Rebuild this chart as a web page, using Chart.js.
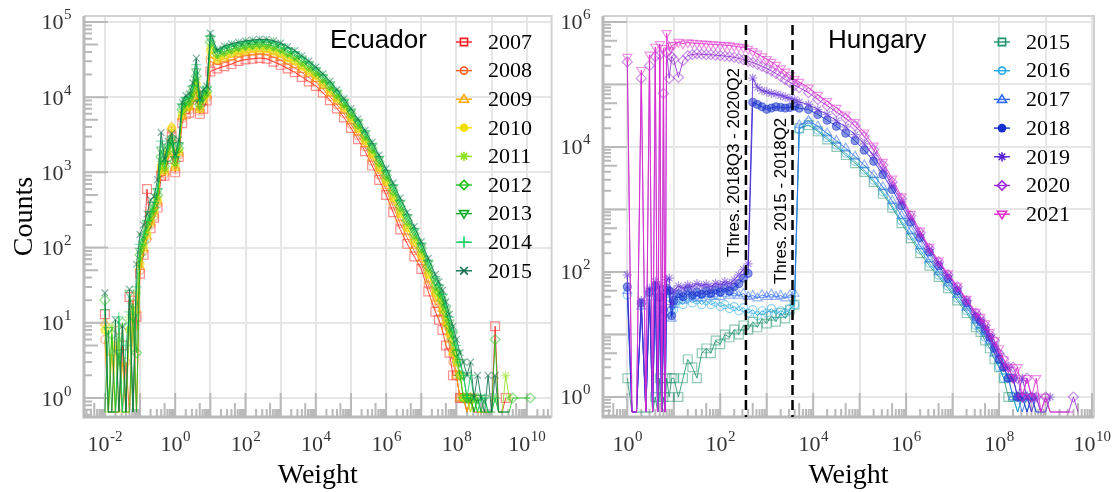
<!DOCTYPE html>
<html>
<head>
<meta charset="utf-8">
<script src="https://cdn.jsdelivr.net/npm/chart.js@4.4.1/dist/chart.umd.min.js"></script>
<style>
  html, body { margin: 0; padding: 0; background: #fff; }
  #wrap { position: relative; width: 1118px; height: 492px; overflow: hidden; }
  canvas { position: absolute; top: 0; }
  #ecuador { left: 0; }
  #hungary { left: 559px; }
</style>
</head>
<body>
<div id="wrap">
  <canvas id="ecuador" width="559" height="492" style="width:559px;height:492px"></canvas>
  <canvas id="hungary" width="559" height="492" style="width:559px;height:492px"></canvas>
</div>
<script>
// ---------------- Ecuador: counts per log-spaced weight bin ----------------
const ecuadorWeights = [
  0.01, 0.0126, 0.0158, 0.02, 0.0251, 0.0316, 0.0398, 0.0501, 0.0631, 0.0794,
  0.1, 0.126, 0.158, 0.2, 0.251, 0.316, 0.398, 0.501, 0.631, 0.794,
  1, 1.26, 1.58, 2, 2.51, 3.16, 3.98, 5.01, 6.31, 7.94,
  10, 15.8, 25.1, 39.8, 63.1, 100, 158, 251, 398, 631,
  1e3, 1.58e3, 2.51e3, 3.98e3, 6.31e3, 1e4, 1.58e4, 2.51e4, 3.98e4, 6.31e4,
  1e5, 1.58e5, 2.51e5, 3.98e5, 6.31e5, 1e6, 1.58e6, 2.51e6, 3.98e6, 6.31e6,
  1e7, 1.58e7, 2.51e7,
  3.16e7, 3.98e7, 5.01e7, 6.31e7, 7.94e7, 1e8, 1.26e8, 1.58e8, 2e8, 2.51e8,
  3.16e8, 3.98e8, 5.01e8, 6.31e8, 7.94e8, 1e9, 1.26e9, 1.58e9, 2e9, 2.51e9,
  3.16e9, 3.98e9, 5.01e9, 6.31e9, 7.94e9, 1e10, 1.26e10
];
const ec2007 = [13,0,0,0,0,5,0,22,0,12,45,80,600,180,250,340,900,900,1500,3000,1000,1600,4500,6000,6200,8000,10000,6000,7000,9000,
  22000,24000,25700,27500,30200,31600,32400,33100,32400,29500,26900,24000,21400,18600,16200,14100,11500,9120,7080,5370,3890,2750,1910,1230,794,501,295,174,112,76,52,26,14,
  11,8,5,4,2,2,1,1,0,1,0,0,0,0,0,0,9,0,0,1];
const ec2008 = [6,0,0,0,8,0,3,0,20,0,50,90,130,200,260,380,1000,950,1600,3600,1100,1700,5200,6500,6800,9000,12000,6500,8500,10000,
  30000,27000,28800,30900,33900,35500,36300,37200,36300,33900,30900,27500,24500,21400,18200,15800,12900,10200,7940,6030,4370,3090,2190,1410,933,589,355,209,135,91,62,32,18,
  16,11,8,5,3,2,1,1,0,1,0];
const ec2009 = [10,0,4,0,0,3,0,0,9,15,55,95,140,210,280,400,1100,1000,1700,4000,1150,1800,5500,7000,7200,9500,13000,6800,9000,10500,
  36000,30000,32400,33900,37200,38900,39800,40700,39800,37200,33900,30200,26900,23400,20400,17400,14100,11200,8710,6610,4790,3390,2400,1580,1050,661,407,245,158,105,71,37,21,
  19,13,9,6,4,2,1,1,0,1,0];
const ec2010 = [8,0,0,5,0,0,0,8,14,0,60,100,150,220,300,430,1200,1050,1800,3900,1200,1900,5800,7500,7600,10000,15000,7000,9500,11000,
  42000,32000,34700,38000,39800,41700,43700,44500,43700,40700,38000,33100,30200,25700,21900,19100,15100,12000,9550,7240,5250,3800,2630,1740,1150,759,457,282,182,120,79,44,25,
  21,15,10,7,4,3,2,1,1,0,1,0,0];
const ec2011 = [0,0,9,0,6,0,0,12,0,25,70,110,170,240,320,470,1400,1100,1900,2500,1300,2000,6300,8000,8200,11000,17000,7500,10000,11500,
  48000,35000,38000,40700,43700,45700,46800,47900,46800,43700,40700,36300,32400,27500,24000,20400,16600,13200,10200,7760,5620,4070,2820,1910,1290,832,513,316,204,135,87,49,28,
  24,18,12,8,5,3,2,1,1,0,1,0,0,0,0,0,1,0,0,2,1];
const ec2012 = [20,0,7,0,0,10,0,0,18,4,80,120,190,260,340,500,1600,1200,2000,2600,1400,2100,6800,8600,8800,12000,19000,8000,10500,12000,
  54000,38000,40700,43700,46800,49000,50100,51300,50100,47900,44700,39800,35500,30200,25700,21900,17800,14100,11000,8320,6030,4370,3090,2090,1380,912,575,355,229,151,98,56,32,
  26,20,14,9,6,4,2,1,1,1,0,1,0,0,0,0,6,0,0,0,0,1,null,null,null,null,1];
const ec2013 = [0,8,0,0,4,0,0,25,12,0,90,140,210,280,370,560,2000,1300,2200,2800,1500,2300,7500,9200,9500,13000,22000,8500,11000,13000,
  60000,40000,43700,46800,49000,51300,52500,53700,53700,51300,46800,41700,37200,32400,27500,22900,18600,14800,11500,8710,6460,4680,3310,2240,1510,977,631,389,251,166,105,62,36,
  29,22,15,10,7,4,3,2,1,1,0,1,0,1,0,0,0];
const ec2014 = [15,0,0,0,12,0,5,14,0,30,110,150,230,300,400,600,2600,1400,2300,2900,1600,2400,8000,9800,10000,14000,27000,9000,12000,13500,
  65000,41000,45700,49000,51300,53700,55000,56200,56200,53700,50100,44700,39800,33900,28800,24000,19500,15500,12000,9120,6760,4900,3470,2400,1620,1070,676,427,275,178,115,68,41,
  32,24,17,12,8,5,3,2,1,2,1,0,1,1,0,0,1,0];
const ec2015 = [25,0,0,11,0,9,0,28,0,60,150,200,280,430,480,800,3400,1500,2600,3300,1700,2700,8500,10500,11000,15500,33000,9500,12500,14000,
  71000,42000,47900,51300,53700,56200,57500,58900,58900,56200,52500,46800,41700,35500,30200,25100,20400,16200,12600,9550,7080,5130,3630,2510,1700,1120,724,457,295,191,120,72,44,
  35,27,19,13,9,6,4,3,2,3,1,2,1,0,2,0,2,0,0,0,0];
const ecuadorYears = ['2007','2008','2009','2010','2011','2012','2013','2014','2015'];
const ecuadorCounts = [ec2007, ec2008, ec2009, ec2010, ec2011, ec2012, ec2013, ec2014, ec2015];
const ecuadorColors = ['#ff1e1e','#ff5a1e','#ffa800','#f0e000','#8fe01c','#22c21c','#14aa2c','#12cf62','#0f6e4c'];
const ecuadorMarkers = ['square','circle','triUp','dot','star','diamond','triDown','plus','cross'];
const ecuadorXTickExp = [-2,-1,0,1,2,3,4,5,6,7,8,9,10];
const ecuadorXLabelExp = [-2,0,2,4,6,8,10];
const ecuadorYTickExp = [0,1,2,3,4,5];
const ecuadorYLabelExp = [0,1,2,3,4,5];

// ---------------- Hungary ----------------
const hungaryWeights = [
  1, 1.26, 1.58, 2, 2.51, 3, 3.5, 4, 4.5, 5, 5.5, 6, 6.5, 7, 8, 9,
  10, 12.6, 15.8, 20, 25.1, 31.6, 39.8, 50.1, 63.1, 79.4,
  100, 126, 158, 200, 251, 316, 398, 501, 631, 794,
  1000, 1260, 1580, 2000, 2510, 3160, 3980,
  5010, 7940, 12600, 2e4, 31600, 50100, 79400, 1.26e5, 2e5, 3.16e5,
  5.01e5, 7.94e5, 1.26e6, 2e6, 3.16e6, 5.01e6, 7.94e6, 1.26e7, 2e7, 3.16e7,
  3.98e7, 5.01e7, 6.31e7, 7.94e7, 1e8, 1.26e8, 1.58e8, 2e8, 2.51e8, 3.16e8, 3.98e8,
  5.01e8, 6.31e8, 7.94e8, 1e9, 1.26e9, 1.58e9, 2e9, 2.51e9, 3.16e9, 3.98e9, 5.01e9
];
const hu2015 = [2,0,0,0,0,0,0,1,0,2,0,1,0,2,1,2,
  2,1,2,4,3,2,5,6,5,8,7,10,9,12,10,14,12,16,13,18,15,20,16,22,18,25,30,
  20000,22400,17800,13200,10000,7410,5500,3980,2750,1780,1070,603,347,200,126,83,55,35,22,13,
  11,8,6,4,3,2,1,1,0,1];
const hu2016 = [43,0,0,30,0,40,0,50,0,30,0,20,0,45,40,25,
  25,35,30,38,32,36,30,35,30,33,28,30,26,28,24,27,22,25,20,24,22,26,21,24,22,26,30,
  19000,25100,18600,14100,10700,7940,5890,4270,2950,1910,1150,661,380,224,138,89,59,38,24,14,
  12,9,7,5,3,2,2,1,0,1,0,1,0];
const hu2017 = [50,0,0,28,0,45,0,55,0,38,0,22,0,50,45,18,
  30,40,35,44,38,42,38,44,40,45,40,45,42,46,42,45,40,42,38,43,40,44,40,42,38,43,45,
  22400,26300,21400,16600,12600,9550,7080,5130,3550,2290,1380,794,457,263,158,100,66,43,27,17,
  14,11,8,5,4,3,2,1,1,0,1,0];
const hu2018 = [58,0,0,32,0,48,0,60,0,40,0,25,0,55,50,20,
  35,45,40,50,42,48,44,50,45,52,48,55,50,58,65,80,95,52000,48000,44000,40000,42000,44000,43000,42000,43000,45000,
  41700,39800,33100,26900,21400,16600,12600,8900,5890,3630,2090,1150,631,355,209,126,79,50,32,19,
  16,12,9,6,4,3,2,2,1,1,0,1,0,0];
const hu2019 = [90,0,0,35,0,55,0,70,0,60,0,45,0,75,80,30,
  50,60,55,62,58,65,60,64,58,66,62,70,65,75,90,110,135,127000,90000,80000,76000,72000,70000,67000,63000,60000,57000,
  52500,47900,39800,33100,26300,20900,15800,11200,7240,4270,2400,1320,724,398,229,138,87,55,35,21,
  17,13,9,7,5,3,3,2,1,2,1,0,1,0,0,1];
const hu2020 = [230000,0,0,125000,0,200000,0,280000,0,300000,0,72000,0,320000,125000,280000,
  250000,130000,240000,290000,300000,310000,305000,300000,300000,295000,290000,285000,280000,272000,262000,250000,235000,225000,210000,195000,180000,165000,150000,135000,120000,108000,97000,
  89000,74000,57500,45700,36300,28800,21900,14800,9100,5130,2750,1480,794,427,240,145,91,58,35,22,
  18,14,10,8,5,4,3,3,2,1,2,1,1,0,1,0,0,0,0,0,1,0];
const hu2021 = [275000,0,0,170000,0,300000,0,400000,0,440000,0,380000,0,660000,350000,420000,
  430000,480000,450000,470000,460000,455000,450000,445000,440000,435000,430000,425000,420000,410000,400000,390000,370000,340000,310000,280000,255000,230000,205000,180000,160000,140000,122000,
  110000,89000,68000,54000,42000,33000,25000,17000,10500,5750,3100,1620,850,457,251,151,95,60,37,23,
  19,15,11,8,6,4,3,2,3,1,2,1,2,0,1,0,0,0,0,0,0];
const hungaryYears = ['2015','2016','2017','2018','2019','2020','2021'];
const hungaryCounts = [hu2015, hu2016, hu2017, hu2018, hu2019, hu2020, hu2021];
const hungaryColors = ['#1f9470','#22a8e6','#2f6cf0','#1530cc','#5a22d6','#9a2ad6','#e32ccc'];
const hungaryMarkers = ['square','circle','triUp','dot','star','diamond','triDown'];
const hungaryXTickExp = [0,1,2,3,4,5,6,7,8,9,10];
const hungaryXLabelExp = [0,2,4,6,8,10];
const hungaryYTickExp = [0,1,2,3,4,5,6];
const hungaryYLabelExp = [0,2,4,6];
const thresholdWeights = [357, 3590];
const thresholdLabels = ['Thres. 2018Q3 - 2020Q2', 'Thres. 2015 - 2018Q2'];

// ---------------- drawing helpers ----------------
const SERIF = '"Liberation Serif", "Times New Roman", serif';
const SANS = '"Liberation Sans", Arial, sans-serif';
const AXIS_GREY = '#b9b9b9';

const MARK = {
  square:  { style: 'rect',     rot: 0,   r: 6.2 },
  circle:  { style: 'circle',   rot: 0,   r: 4 },
  dot:     { style: 'circle',   rot: 0,   r: 4, fill: true },
  triUp:   { style: 'triangle', rot: 0,   r: 5.2 },
  star:    { style: 'star',     rot: 0,   r: 4.6 },
  diamond: { style: 'rectRot',  rot: 0,   r: 5 },
  triDown: { style: 'triangle', rot: 180, r: 5.2 },
  plus:    { style: 'cross',    rot: 0,   r: 5 },
  cross:   { style: 'crossRot', rot: 0,   r: 4.8 }
};

function rgba(hex, a) {
  const n = parseInt(hex.slice(1), 16);
  return 'rgba(' + ((n >> 16) & 255) + ',' + ((n >> 8) & 255) + ',' + (n & 255) + ',' + a + ')';
}

function toPoints(weights, counts, floor) {
  const pts = [];
  for (let i = 0; i < counts.length && i < weights.length; i++) {
    const c = counts[i];
    if (c === null) continue;
    pts.push({ x: weights[i], y: c === 0 ? floor : c, empty: c === 0 });
  }
  return pts;
}

function drawLegendMarker(ctx, kind, x, y, color) {
  ctx.save();
  ctx.strokeStyle = color;
  ctx.fillStyle = color;
  ctx.lineWidth = 1.6;
  ctx.beginPath();
  const r = 4.6;
  switch (kind) {
    case 'square': ctx.rect(x - 3.6, y - 3.6, 7.2, 7.2); ctx.stroke(); break;
    case 'circle': ctx.arc(x, y, 3.6, 0, Math.PI * 2); ctx.stroke(); break;
    case 'dot': ctx.arc(x, y, 4.3, 0, Math.PI * 2); ctx.fill(); break;
    case 'triUp':
      ctx.moveTo(x, y - r); ctx.lineTo(x + r, y + r * 0.65); ctx.lineTo(x - r, y + r * 0.65); ctx.closePath(); ctx.stroke(); break;
    case 'triDown':
      ctx.moveTo(x, y + r); ctx.lineTo(x + r, y - r * 0.65); ctx.lineTo(x - r, y - r * 0.65); ctx.closePath(); ctx.stroke(); break;
    case 'diamond':
      ctx.moveTo(x, y - r); ctx.lineTo(x + r, y); ctx.lineTo(x, y + r); ctx.lineTo(x - r, y); ctx.closePath(); ctx.stroke(); break;
    case 'star':
      for (let k = 0; k < 4; k++) {
        const a = k * Math.PI / 4;
        ctx.moveTo(x - r * Math.cos(a), y - r * Math.sin(a));
        ctx.lineTo(x + r * Math.cos(a), y + r * Math.sin(a));
      }
      ctx.stroke(); break;
    case 'plus':
      ctx.moveTo(x - r - 1, y); ctx.lineTo(x + r + 1, y); ctx.moveTo(x, y - r - 1); ctx.lineTo(x, y + r + 1); ctx.stroke(); break;
    case 'cross':
      ctx.moveTo(x - 3.8, y - 3.8); ctx.lineTo(x + 3.8, y + 3.8); ctx.moveTo(x + 3.8, y - 3.8); ctx.lineTo(x - 3.8, y + 3.8); ctx.stroke(); break;
  }
  ctx.restore();
}

// "10" with a raised exponent
function drawPower(ctx, exp, x, y, align) {
  const base = '10', sup = String(exp);
  ctx.font = '22px ' + SERIF;
  const wb = ctx.measureText(base).width;
  ctx.font = '15px ' + SERIF;
  const ws = ctx.measureText(sup).width;
  const total = wb + ws;
  const x0 = align === 'center' ? x - total / 2 : x - total;
  ctx.textAlign = 'left';
  ctx.textBaseline = 'alphabetic';
  ctx.fillStyle = '#333';
  ctx.font = '22px ' + SERIF;
  ctx.fillText(base, x0, y + 7.5);
  ctx.font = '15px ' + SERIF;
  ctx.fillText(sup, x0 + wb + 0.5, y - 2.5);
}

function makePanel(canvasId, cfg) {
  const canvas = document.getElementById(canvasId);
  const W = canvas.width, H = canvas.height;
  const n = cfg.counts.length;

  const datasets = cfg.counts.map((counts, i) => {
    const m = MARK[cfg.markers[i]];
    const col = cfg.colors[i];
    return {
      label: cfg.years[i],
      data: toPoints(cfg.weights, counts, cfg.floor),
      borderColor: rgba(col, 0.85),
      borderWidth: 1,
      pointStyle: m.style,
      pointRotation: m.rot,
      pointRadius: (c) => (c.raw && c.raw.empty) ? 0 : m.r,
      pointHoverRadius: 0,
      pointBorderWidth: 1.2,
      pointBorderColor: rgba(col, 0.5),
      pointBackgroundColor: m.fill ? rgba(col, 0.5) : 'rgba(0,0,0,0)',
      order: n - 1 - i,
      tension: 0,
      fill: false,
      spanGaps: true
    };
  });

  const decor = {
    id: 'decor_' + canvasId,
    beforeDatasetsDraw(chart) {
      const ctx = chart.ctx, a = chart.chartArea;
      const xs = chart.scales.x, ys = chart.scales.y;
      ctx.save();
      ctx.strokeStyle = AXIS_GREY;
      ctx.lineWidth = 2;
      ctx.beginPath();
      for (let d = cfg.xDecades[0]; d <= cfg.xDecades[1]; d++) {
        for (let m = 1; m <= 9; m++) {
          const p = xs.getPixelForValue(m * Math.pow(10, d));
          if (p < a.left + 1 || p > a.right - 1) continue;
          const len = m === 1 ? 24 : (m === 5 ? 14 : 8);
          ctx.moveTo(p, a.bottom); ctx.lineTo(p, a.bottom - len);
        }
      }
      for (let d = cfg.yDecades[0]; d <= cfg.yDecades[1]; d++) {
        for (let m = 1; m <= 9; m++) {
          const p = ys.getPixelForValue(m * Math.pow(10, d));
          if (p < a.top + 1 || p > a.bottom - 1) continue;
          const len = m === 1 ? 24 : (m === 5 ? 14 : 8);
          ctx.moveTo(a.left, p); ctx.lineTo(a.left + len, p);
        }
      }
      ctx.stroke();
      ctx.restore();
    },
    afterDatasetsDraw(chart) {
      const ctx = chart.ctx, a = chart.chartArea;
      const xs = chart.scales.x, ys = chart.scales.y;
      ctx.save();
      // frame
      ctx.strokeStyle = '#d2d2d2';
      ctx.lineWidth = 2;
      ctx.beginPath();
      ctx.moveTo(a.left, a.top); ctx.lineTo(a.right, a.top); ctx.lineTo(a.right, a.bottom);
      ctx.stroke();
      ctx.strokeStyle = AXIS_GREY;
      ctx.lineWidth = 3;
      ctx.beginPath();
      ctx.moveTo(a.left, a.top); ctx.lineTo(a.left, a.bottom); ctx.lineTo(a.right, a.bottom);
      ctx.stroke();

      // threshold markers
      if (cfg.thresholds) {
        cfg.thresholds.forEach((w, i) => {
          const px = xs.getPixelForValue(w);
          ctx.save();
          ctx.strokeStyle = '#000';
          ctx.lineWidth = 2.5;
          ctx.setLineDash([10, 5]);
          ctx.beginPath();
          ctx.moveTo(px, a.top + 9); ctx.lineTo(px, a.bottom);
          ctx.stroke();
          ctx.restore();
          ctx.save();
          ctx.translate(px - 11.5, cfg.thresholdStartY[i]);
          ctx.rotate(-Math.PI / 2);
          ctx.font = '17px ' + SANS;
          ctx.fillStyle = '#000';
          ctx.textAlign = 'left';
          ctx.textBaseline = 'middle';
          ctx.fillText(cfg.thresholdText[i], 0, 0);
          ctx.restore();
        });
      }

      // tick labels
      cfg.xLabels.forEach(e => drawPower(ctx, e, xs.getPixelForValue(Math.pow(10, e)), 443, 'center'));
      cfg.yLabels.forEach(e => drawPower(ctx, e, a.left - 13, ys.getPixelForValue(Math.pow(10, e)), 'right'));

      // axis titles
      ctx.fillStyle = '#000';
      ctx.font = '28px ' + SERIF;
      ctx.textAlign = 'center';
      ctx.textBaseline = 'alphabetic';
      ctx.fillText('Weight', (a.left + a.right) / 2, 483);
      if (cfg.yTitle) {
        ctx.save();
        ctx.translate(32, (a.top + a.bottom) / 2);
        ctx.rotate(-Math.PI / 2);
        ctx.fillText(cfg.yTitle, 0, 0);
        ctx.restore();
      }

      // panel title
      ctx.font = '26px ' + SANS;
      ctx.textAlign = 'left';
      ctx.fillText(cfg.title, cfg.titleX, 48);

      // legend
      cfg.years.forEach((yr, i) => {
        const y = cfg.legendY0 + i * cfg.legendDY;
        const col = cfg.colors[i];
        ctx.save();
        ctx.strokeStyle = col;
        ctx.lineWidth = 1.4;
        ctx.beginPath();
        ctx.moveTo(cfg.legendX - 8, y); ctx.lineTo(cfg.legendX + 8, y);
        ctx.stroke();
        ctx.restore();
        drawLegendMarker(ctx, cfg.markers[i], cfg.legendX, y, col);
        ctx.fillStyle = '#000';
        ctx.font = '22px ' + SERIF;
        ctx.textAlign = 'left';
        ctx.textBaseline = 'middle';
        ctx.fillText(yr, cfg.legendX + 24, y + 1);
      });
      ctx.restore();
    }
  };

  const gridOpts = { color: '#e6e6e6', lineWidth: 2, drawTicks: false };
  return new Chart(canvas, {
    type: 'line',
    data: { datasets },
    options: {
      responsive: false,
      animation: false,
      devicePixelRatio: 1,
      events: [],
      layout: { padding: { left: cfg.area.left, right: W - cfg.area.right, top: cfg.area.top, bottom: H - cfg.area.bottom } },
      plugins: { legend: { display: false }, tooltip: { enabled: false } },
      scales: {
        x: {
          type: 'logarithmic', min: cfg.xMin, max: cfg.xMax,
          afterFit: (s) => { s.height = 0; },
          afterBuildTicks: (s) => { s.ticks = cfg.xTicks.map(e => ({ value: Math.pow(10, e) })); },
          ticks: { display: false },
          grid: gridOpts,
          border: { display: false }
        },
        y: {
          type: 'logarithmic', min: cfg.yMin, max: cfg.yMax,
          afterFit: (s) => { s.width = 0; },
          afterBuildTicks: (s) => { s.ticks = cfg.yTicks.map(e => ({ value: Math.pow(10, e) })); },
          ticks: { display: false },
          grid: gridOpts,
          border: { display: false }
        }
      }
    },
    plugins: [decor]
  });
}

makePanel('ecuador', {
  weights: ecuadorWeights, counts: ecuadorCounts, years: ecuadorYears,
  colors: ecuadorColors, markers: ecuadorMarkers, floor: 0.65,
  area: { left: 84, right: 555, top: 16, bottom: 417 },
  xMin: 2.55e-3, xMax: 5.08e10, yMin: 0.559, yMax: 1.2e5,
  xTicks: ecuadorXTickExp, yTicks: ecuadorYTickExp,
  xLabels: ecuadorXLabelExp, yLabels: ecuadorYLabelExp,
  xDecades: [-3, 10], yDecades: [-1, 5],
  yTitle: 'Counts', title: 'Ecuador', titleX: 330,
  legendX: 464, legendY0: 42, legendDY: 28.6
});

makePanel('hungary', {
  weights: hungaryWeights, counts: hungaryCounts, years: hungaryYears,
  colors: hungaryColors, markers: hungaryMarkers, floor: 0.575,
  area: { left: 44, right: 535, top: 16, bottom: 417 },
  xMin: 0.305, xMax: 1.104e10, yMin: 0.4786, yMax: 1.247e6,
  xTicks: hungaryXTickExp, yTicks: hungaryYTickExp,
  xLabels: hungaryXLabelExp, yLabels: hungaryYLabelExp,
  xDecades: [-1, 10], yDecades: [-1, 6],
  yTitle: null, title: 'Hungary', titleX: 269,
  legendX: 443, legendY0: 42, legendDY: 28.7,
  thresholds: thresholdWeights, thresholdText: thresholdLabels, thresholdStartY: [257, 284]
});
</script>
</body>
</html>
